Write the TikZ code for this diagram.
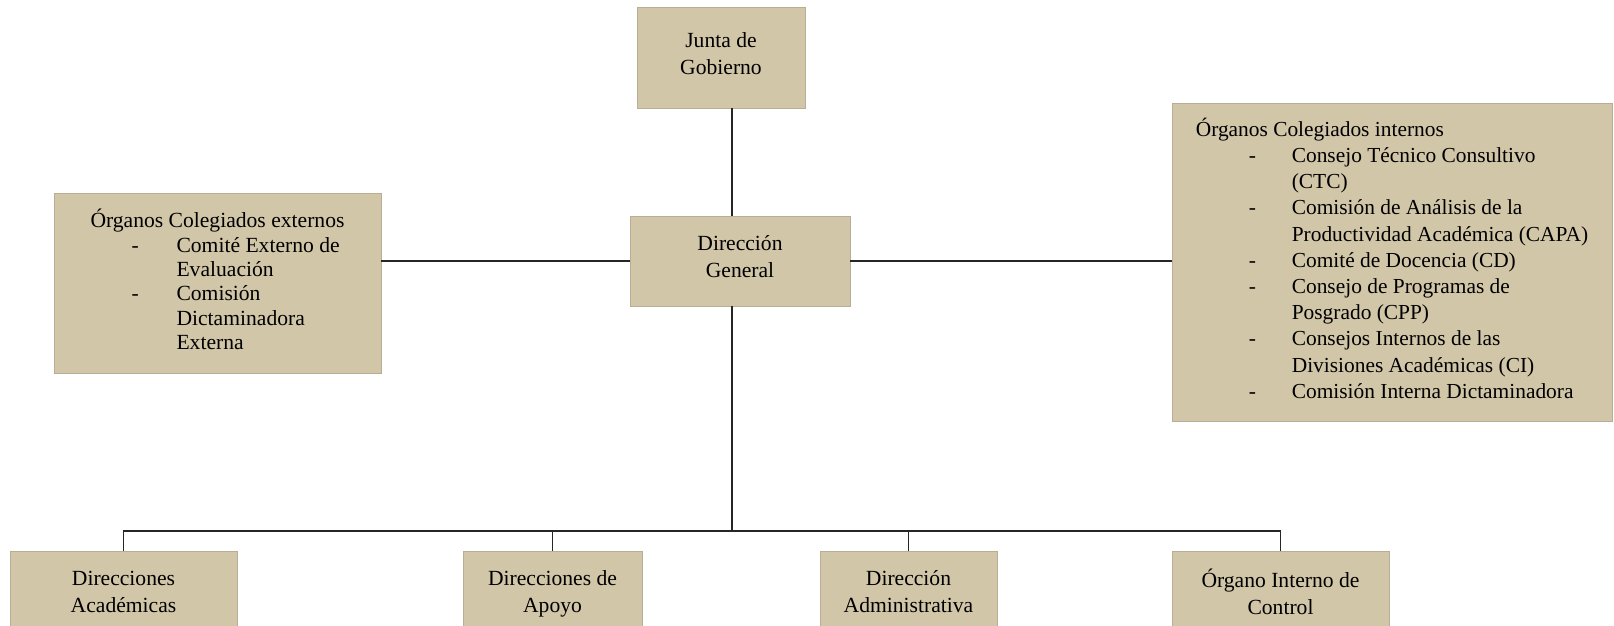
\documentclass[tikz,border=0pt]{standalone}
\usepackage{fontspec}
\setmainfont{Liberation Serif}
\usepackage{tikz}
\usetikzlibrary{positioning}
\definecolor{boxfill}{RGB}{210,198,168}
\setlength{\tabcolsep}{0pt}

\begin{document}
\begin{tikzpicture}[
x = 0.5pt, y = -0.5pt,
     C/.style = {draw=black!85, line width=0.8pt},
     B/.style = {fill=boxfill, draw=boxfill!88!black, line width=0.3pt,
                 inner sep=0pt, align=center,
                 execute at begin node=\strut, execute at end node=\strut,
                 font=\fontsize{10.8}{13.5}\selectfont},
     L/.style = {B, font=\fontsize{10.8}{12.2}\selectfont}
                    ]
\clip (0,0) rectangle (1614,626);
% top
\node (jg) [B, minimum width=84pt, minimum height=50.5pt] at (721,57.5) {Junta de\\Gobierno};
\node (dg) [B, minimum width=110pt, minimum height=45pt] at (740,261) {Dirección\\General};
% side lists
\node (ext) [L, minimum width=163.5pt, minimum height=90pt] at (217.5,283)
    {\begin{tabular}{@{}p{20.5pt}p{22.5pt}l@{}}
     \multicolumn{3}{@{}l@{}}{Órganos Colegiados externos}\\
       & - & Comité Externo de\\
       &   & Evaluación\\
       & - & Comisión\\
       &   & Dictaminadora\\
       &   & Externa
     \end{tabular}};
\node (int) [L, font=\fontsize{10.7}{13.1}\selectfont,
             minimum width=220pt, minimum height=159pt] at (1392,262)
    {\begin{tabular}{@{}p{26.5pt}p{21.5pt}l@{}}
     \multicolumn{3}{@{}l@{}}{Órganos Colegiados internos}\\
       & - & Consejo Técnico Consultivo\\
       &   & (CTC)\\
       & - & Comisión de Análisis de la\\
       &   & Productividad Académica (CAPA)\\
       & - & Comité de Docencia (CD)\\
       & - & Consejo de Programas de\\
       &   & Posgrado (CPP)\\
       & - & Consejos Internos de las\\
       &   & Divisiones Académicas (CI)\\
       & - & Comisión Interna Dictaminadora
     \end{tabular}};
% bottom row
\node (da)  [B, minimum width=113.5pt, minimum height=45pt] at (123.5,596) {Direcciones\\Académicas};
\node (dap) [B, minimum width=89.5pt,  minimum height=45pt] at (552.5,596) {Direcciones de\\Apoyo};
\node (dad) [B, minimum width=88.5pt,  minimum height=45pt] at (908.5,596) {Dirección\\Administrativa};
\node (oic) [B, minimum width=108.5pt, minimum height=45pt] at (1280.5,596) {Órgano Interno de\\Control};
%
\coordinate (ax)  at (732,0);
\coordinate (bus) at (0,531);
\draw[C] (ax |- jg.south) -- (ax |- dg.north);
\draw[C] (ext.east |- dg.west) -- (dg.west);
\draw[C] (dg.east) -- (int.west |- dg.east);
\draw[C] (ax |- dg.south) -- (ax |- bus);
\draw[C] (da.north) |- (bus -| oic.north) -- (oic.north);
\draw[C] (dap.north) -- (dap.north |- bus);
\draw[C] (dad.north) -- (dad.north |- bus);
\end{tikzpicture}
\end{document}
